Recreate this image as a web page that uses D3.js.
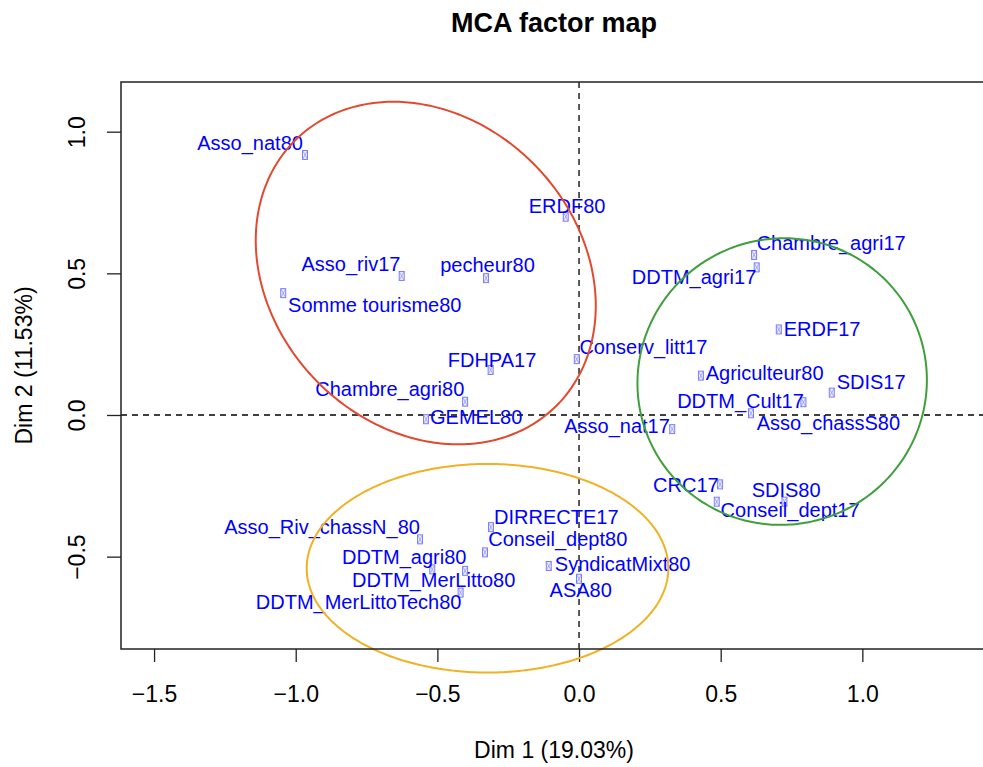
<!DOCTYPE html>
<html>
<head>
<meta charset="utf-8">
<script src="https://cdnjs.cloudflare.com/ajax/libs/d3/7.8.5/d3.min.js"></script>
<style>
  html, body { margin: 0; padding: 0; background: #fff; }
  svg { display: block; font-family: "Liberation Sans", Arial, Helvetica, sans-serif; }
</style>
</head>
<body>
<svg id="chart" width="983" height="767"></svg>
<script>
// MCA individuals: coordinates on Dim 1 / Dim 2
const names = [
  "Asso_nat80", "ERDF80", "Asso_riv17", "pecheur80", "Somme tourisme80",
  "FDHPA17", "Conserv_litt17", "Chambre_agri80", "GEMEL80",
  "Chambre_agri17", "DDTM_agri17", "ERDF17", "Agriculteur80", "SDIS17",
  "DDTM_Cult17", "Asso_chassS80", "Asso_nat17", "CRC17", "SDIS80", "Conseil_dept17",
  "Asso_Riv_chassN_80", "DIRRECTE17", "Conseil_dept80", "DDTM_agri80",
  "DDTM_MerLitto80", "DDTM_MerLittoTech80", "SyndicatMixt80", "ASA80"
];
const dim1 = [
  -0.967, -0.047, -0.626, -0.328, -1.044,
  -0.312, -0.008, -0.402, -0.540,
   0.618,  0.627,  0.705,  0.430,  0.892,
   0.792,  0.607,  0.329,  0.498,  0.725,  0.486,
  -0.561, -0.311, -0.332, -0.518,
  -0.402, -0.418, -0.107,  0.000
];
const dim2 = [
   0.918,  0.700,  0.491,  0.483,  0.430,
   0.159,  0.197,  0.047, -0.015,
   0.565,  0.521,  0.302,  0.139,  0.079,
   0.045,  0.006, -0.050, -0.245, -0.306, -0.306,
  -0.439, -0.396, -0.485, -0.545,
  -0.550, -0.627, -0.533, -0.578
];
// label anchor (centre, baseline) in Dim 1 / Dim 2 units
const labelDim1 = [
  -1.161, -0.042, -0.805, -0.323, -0.721,
  -0.307,  0.227, -0.668, -0.363,
   0.890,  0.406,  0.858,  0.655,  1.031,
   0.570,  0.880,  0.134,  0.377,  0.731,  0.745,
  -0.907, -0.080, -0.075, -0.617,
  -0.513, -0.778,  0.154,  0.006
];
const labelDim2 = [
   0.935,  0.712,  0.508,  0.506,  0.365,
   0.169,  0.215,  0.067, -0.033,
   0.582,  0.462,  0.280,  0.124,  0.092,
   0.026, -0.053, -0.065, -0.273, -0.291, -0.361,
  -0.421, -0.385, -0.462, -0.527,
  -0.608, -0.685, -0.551, -0.644
];

// cluster ellipses: centre and covariance (Dim 1, Dim 2)
const ellipseColors = ["#e2492f", "#3f9f3a", "#f0b224"];
const ellipseCx  = [-0.541, 0.717, -0.323];
const ellipseCy  = [ 0.501, 0.118, -0.541];
const ellipseSxx = [ 0.3601, 0.2609, 0.4073];
const ellipseSyy = [ 0.3656, 0.2559, 0.1355];
const ellipseSxy = [-0.0692, 0.0030, 0.0000];

const xTicks = [-1.5, -1.0, -0.5, 0.0, 0.5, 1.0];
const yTicks = [-0.5, 0.0, 0.5, 1.0];
const xDomain = [-1.6167, 1.4400];
const yDomain = [-0.826, 1.1754];

const title = "MCA factor map";
const xTitle = "Dim 1 (19.03%)";
const yTitle = "Dim 2 (11.53%)";

// ---- layout ----
const plot = { left: 121, right: 987, top: 82, bottom: 649 };
const svg = d3.select("#chart");
svg.append("rect").attr("width", 983).attr("height", 767).attr("fill", "#fff");

const x = d3.scaleLinear().domain(xDomain).range([plot.left, plot.right]);
const y = d3.scaleLinear().domain(yDomain).range([plot.bottom, plot.top]);

const fmt = v => d3.format(".1f")(v).replace("-", "\u2212");

// title
svg.append("text")
  .attr("x", (plot.left + plot.right) / 2).attr("y", 31.5)
  .attr("text-anchor", "middle")
  .attr("font-size", 27).attr("font-weight", "bold")
  .attr("fill", "#000")
  .text(title);

// axis titles
svg.append("text")
  .attr("x", (plot.left + plot.right) / 2).attr("y", 758)
  .attr("text-anchor", "middle").attr("font-size", 23)
  .text(xTitle);
svg.append("text")
  .attr("transform", `translate(32,${(plot.top + plot.bottom) / 2}) rotate(-90)`)
  .attr("text-anchor", "middle").attr("font-size", 23)
  .text(yTitle);

// axes
const xAxis = d3.axisBottom(x).tickValues(xTicks).tickFormat(fmt).tickSize(13).tickPadding(0);
const gx = svg.append("g").attr("transform", `translate(0,${plot.bottom})`).call(xAxis);
gx.select(".domain").remove();
gx.selectAll(".tick line").attr("stroke", "#222").attr("stroke-width", 1.3);
gx.selectAll(".tick text").attr("font-size", 23).attr("fill", "#000")
  .attr("font-family", "Liberation Sans, Arial, sans-serif")
  .attr("dy", null).attr("y", 53);

const yAxis = d3.axisLeft(y).tickValues(yTicks).tickFormat(fmt).tickSize(14).tickPadding(0);
const gy = svg.append("g").attr("transform", `translate(${plot.left},0)`).call(yAxis);
gy.select(".domain").remove();
gy.selectAll(".tick line").attr("stroke", "#222").attr("stroke-width", 1.3);
gy.selectAll(".tick text").attr("font-size", 23).attr("fill", "#000")
  .attr("font-family", "Liberation Sans, Arial, sans-serif")
  .attr("x", null).attr("dy", null)
  .attr("text-anchor", "middle")
  .attr("transform", "translate(-36,0) rotate(-90)");

// reference lines through the origin
const dash = "6,5";
svg.append("line")
  .attr("x1", x(0)).attr("x2", x(0)).attr("y1", plot.top).attr("y2", plot.bottom)
  .attr("stroke", "#000").attr("stroke-width", 1.3).attr("stroke-dasharray", dash);
svg.append("line")
  .attr("x1", plot.left).attr("x2", plot.right).attr("y1", y(0)).attr("y2", y(0))
  .attr("stroke", "#000").attr("stroke-width", 1.3).attr("stroke-dasharray", dash);

// individuals
const data = names.map((n, i) => ({
  name: n, d1: dim1[i], d2: dim2[i], l1: labelDim1[i], l2: labelDim2[i]
}));

const marks = svg.append("g").attr("class", "points");
const mk = marks.selectAll("g").data(data).join("g")
  .attr("transform", d => `translate(${x(d.d1)},${y(d.d2)})`);
mk.append("rect")
  .attr("x", -2.5).attr("y", -4.5).attr("width", 5).attr("height", 9)
  .attr("fill", "#eef0ff").attr("stroke", "#6f6fff").attr("stroke-width", 0.9);
mk.append("path")
  .attr("d", "M-2.5,-4.5L2.5,4.5M2.5,-4.5L-2.5,4.5")
  .attr("stroke", "#8a8aff").attr("stroke-width", 0.7).attr("fill", "none");

svg.append("g").attr("class", "labels")
  .selectAll("text").data(data).join("text")
  .attr("x", d => x(d.l1)).attr("y", d => y(d.l2))
  .attr("text-anchor", "middle")
  .attr("font-size", 20).attr("fill", "#0000ff")
  .text(d => d.name);

// confidence ellipses (parametrised through a Cholesky factor of the covariance)
const line = d3.line().x(p => x(p[0])).y(p => y(p[1]));
const ellipses = ellipseColors.map((c, k) => {
  const l11 = Math.sqrt(ellipseSxx[k]);
  const l21 = ellipseSxy[k] / l11;
  const l22 = Math.sqrt(ellipseSyy[k] - l21 * l21);
  const pts = d3.range(0, 361).map(a => {
    const t = a * Math.PI / 180;
    return [ellipseCx[k] + l11 * Math.cos(t),
            ellipseCy[k] + l21 * Math.cos(t) + l22 * Math.sin(t)];
  });
  return { color: c, pts };
});
svg.append("g").attr("class", "ellipses")
  .selectAll("path").data(ellipses).join("path")
  .attr("d", d => line(d.pts))
  .attr("fill", "none").attr("stroke", d => d.color).attr("stroke-width", 2);

// plot frame
svg.append("rect")
  .attr("x", plot.left).attr("y", plot.top)
  .attr("width", plot.right - plot.left).attr("height", plot.bottom - plot.top)
  .attr("fill", "none").attr("stroke", "#222").attr("stroke-width", 1.5);
</script>
</body>
</html>
